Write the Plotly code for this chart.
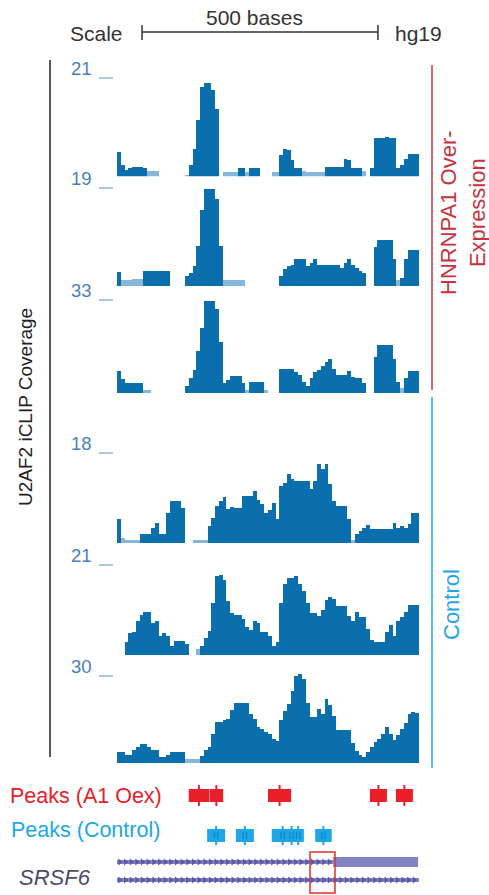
import plotly.graph_objects as go
import numpy as np

# ---------------- data ----------------
BIN = 8  # bases per coverage bin
N_BINS = 80
track_max = [21, 19, 33, 18, 21, 30]
track_group = ["oex", "oex", "oex", "ctl", "ctl", "ctl"]

cov_oex1 = [5.2, 2.5, 1.5, 1.8, 2.0, 2.0, 2.0, 1.8, 1.2, 1.2,
            1.2, 0, 0, 0, 0, 0, 0, 0, 0.4, 2.5,
            6, 12, 19, 20, 20, 18.5, 14.5, 0, 1.0, 1.0,
            1.0, 1.0, 1.8, 1.8, 1.0, 1.8, 1.8, 1.8, 0, 0,
            0, 1.0, 1.0, 4.6, 6.0, 5.8, 3.5, 1.8, 1.8, 1.2,
            1.0, 1.0, 1.0, 1.0, 1.0, 2.0, 2.0, 2.1, 2.1, 2.1,
            3.7, 3.5, 1.8, 1.8, 1.8, 1.2, 0, 1.8, 8.3, 8.3,
            8.3, 8.5, 8.3, 8.3, 1.8, 2.5, 3.7, 4.8, 4.8, 4.8]
cov_oex2 = [2.6, 1.2, 1.2, 1.2, 1.3, 1.3, 1.3, 2.8, 2.8, 2.8,
            2.8, 2.8, 2.8, 2.9, 0, 0, 0, 0, 1.8, 2.5,
            3.8, 7.7, 14.6, 18.8, 18.8, 18.8, 16.8, 7.7, 1.2, 1.2,
            1.2, 1.2, 1.2, 1.2, 0, 0, 0, 0, 0, 0,
            0, 0, 0, 1.8, 3.3, 3.8, 4.1, 5.1, 5.1, 5.1,
            3.8, 4.5, 5.1, 4.1, 4.1, 4.1, 4.1, 4.1, 4.1, 3.5,
            4.5, 5.1, 4.1, 3.5, 2.8, 2.5, 0, 0, 7.5, 8.8,
            8.8, 8.8, 8.8, 5.1, 1.2, 1.5, 5.1, 6.9, 6.9, 6.9]
cov_oex3 = [8.0, 5.0, 3.5, 3.5, 3.5, 3.5, 3.5, 1.2, 1.0, 0,
            0, 0, 0, 0, 0, 0, 0, 0, 2.5, 5.3,
            8.3, 14.8, 23, 32.7, 32.7, 32.7, 30, 18, 3.5, 4.5,
            6.1, 6.1, 6.1, 3.5, 1.2, 3.8, 3.8, 3.8, 3.8, 1.2,
            0, 0, 0, 8.6, 8.6, 8.6, 8.6, 7.5, 6.5, 4.0,
            2.4, 5.3, 7.5, 8.3, 9.5, 11.2, 12.2, 8.5, 6.5, 6.5,
            6.5, 8.0, 5.7, 5.3, 5.3, 3.5, 0, 0, 13, 17.1,
            17.1, 17.1, 17.1, 12, 4, 1.8, 5.3, 8.0, 8.0, 8.0]
cov_ctl1 = [4.7, 1.0, 0.5, 0.5, 0.5, 0.5, 1.7, 1.7, 1.7, 3.0,
            4.0, 1.7, 1.7, 6, 8.3, 8.3, 8.3, 7, 0, 0,
            0.5, 0.5, 0.5, 0.5, 3.3, 5, 7.3, 8.3, 9.2, 6.7,
            7.2, 7, 7, 9.3, 9.3, 9.3, 10.3, 8.5, 7.7, 6,
            6.5, 8, 4.7, 11.3, 12, 13.7, 12.8, 12.3, 12.3, 12.3,
            12.3, 10.7, 12.3, 15.7, 14.7, 15.7, 11.8, 8.3, 7.3, 7.3,
            7.3, 4.7, 0.5, 1.7, 2.3, 3.0, 3.5, 2.7, 2.7, 2.7,
            2.7, 2.7, 2.7, 3.9, 2.9, 3.3, 3.0, 3.7, 5.9, 5.9]
cov_ctl2 = [0, 0, 3.0, 5.2, 5.4, 7.8, 9.3, 9.9, 9.9, 7.4,
            7.8, 4.3, 5.2, 4.5, 2.1, 3.3, 3.3, 3.3, 2.5, 0,
            0, 1.3, 2.0, 4.0, 5.5, 12, 18.3, 18.7, 17.5, 12.5,
            9.8, 9.3, 9.3, 8.3, 6.5, 5.8, 7.8, 7.5, 5.4, 5.4,
            4.5, 2.1, 3.1, 12, 16.5, 17.9, 17.9, 18.3, 16.5, 15,
            12, 9.7, 9.7, 9.0, 10.5, 12.8, 13.5, 13, 11.3, 11.3,
            11.3, 9, 7.8, 10, 8.8, 8.8, 6, 3.5, 3.1, 3.1,
            3.1, 5.4, 7, 4.5, 7.8, 8.8, 10, 11.7, 11.7, 11.7]
cov_ctl3 = [4.0, 4.0, 3.0, 2.8, 4.6, 5.7, 6.8, 6.8, 5.5, 4.6,
            4.6, 2.3, 2.3, 2.9, 3.8, 3.8, 3.8, 3.8, 1.7, 1.7,
            1.7, 1.7, 2.5, 4.8, 5.7, 10, 14.3, 14.3, 15, 15.4,
            18.5, 21, 21, 21, 21, 17.1, 15.4, 12.5, 12, 10.8,
            10, 8.5, 7.8, 15, 18, 20.5, 25, 30.2, 31, 29,
            21, 16, 16, 18.8, 17.1, 22.2, 20, 16.5, 11.4, 11.4,
            11.4, 11.4, 7.0, 4.3, 3.0, 2.3, 4.0, 5.7, 7.4, 8.5,
            10, 12.5, 10.3, 8.2, 9.7, 12, 14, 17.1, 17.7, 17.5]
coverage = [cov_oex1, cov_oex2, cov_oex3, cov_ctl1, cov_ctl2, cov_ctl3]

peaks_oex_start = [152, 196, 320, 536, 591]
peaks_oex_end = [195, 225, 369, 572, 627]
peaks_ctl_start = [191, 252, 328, 350, 372, 420]
peaks_ctl_end = [229, 290, 374, 390, 396, 455]

scale_start, scale_end = 53, 553
tx1_thin = (0, 458)
tx1_thick = (458, 638)
tx2_span = (0, 642)
box_span = (409, 462)

# ---------------- layout helpers ----------------
W, H = 489, 895
DARK = "#0b6fae"
LIGHT = "#86b6db"
RED = "#e8202a"
RED_LINE = "#c8323c"
CYAN = "#1ea6e6"
GENE = "#8383c2"
GENE_DARK = "#5a5aa6"
TICKBLUE = "#4a7fbe"
FONT = "Liberation Sans, Arial, sans-serif"

def fy(py):
    return 1 - py / H

def fx(px):
    return px / W

baselines = [177, 286, 393, 543, 655, 763]
tickpix = [78, 188, 300, 453, 565, 676]
HEAD = 1.12

fig = go.Figure()
x_centers = np.arange(N_BINS) * BIN + BIN / 2

layout_axes = {}
shapes = []
annotations = []

def note(text, x, y, size, color, xanchor="center", yanchor="middle", **kw):
    d = dict(text=text, xref="paper", yref="paper", x=x, y=y, showarrow=False,
             xanchor=xanchor, yanchor=yanchor,
             font=dict(family=FONT, size=size, color=color))
    d.update(kw)
    annotations.append(d)

for k in range(6):
    ya = "y" if k == 0 else f"y{k+1}"
    yname = "yaxis" if k == 0 else f"yaxis{k+1}"
    vals = coverage[k]
    mx = track_max[k]
    colors = [LIGHT if v / mx <= 0.07 else DARK for v in vals]
    fig.add_trace(go.Bar(x=x_centers, y=vals, width=BIN, marker_color=colors,
                         marker_line_width=0, xaxis="x", yaxis=ya,
                         hoverinfo="skip"))
    b = baselines[k]
    top = b - (b - tickpix[k]) * HEAD
    layout_axes[yname] = dict(domain=[fy(b), fy(top)], range=[0, mx * HEAD],
                              visible=False, anchor="x", fixedrange=True)
    # tick mark and label
    shapes.append(dict(type="line", xref="paper", yref=ya, x0=fx(99), x1=fx(113),
                       y0=mx, y1=mx, line=dict(color="#8fb4da", width=1.5)))
    note(str(mx), fx(81), mx, 18.5, TICKBLUE, yref=ya, yshift=10)

# bottom area axis in pixel units
layout_axes["yaxis7"] = dict(domain=[0, fy(770)], range=[H, 770], visible=False,
                             anchor="x", fixedrange=True)

# peaks
for s, e in zip(peaks_oex_start, peaks_oex_end):
    shapes.append(dict(type="rect", xref="x", yref="y7", x0=s, x1=e, y0=789, y1=802,
                       fillcolor=RED, line=dict(width=0)))
    m = (s + e) / 2
    shapes.append(dict(type="line", xref="x", yref="y7", x0=m, x1=m, y0=785, y1=806,
                       line=dict(color=RED, width=2)))
for s, e in zip(peaks_ctl_start, peaks_ctl_end):
    shapes.append(dict(type="rect", xref="x", yref="y7", x0=s, x1=e, y0=829, y1=842,
                       fillcolor=CYAN, line=dict(width=0)))
for s, e in zip(peaks_ctl_start, peaks_ctl_end):
    m = (s + e) / 2
    shapes.append(dict(type="rect", xref="x", yref="y7", x0=m - 5, x1=m + 5, y0=832, y1=839,
                       fillcolor="#0f86cc", line=dict(width=0)))
    shapes.append(dict(type="line", xref="x", yref="y7", x0=m, x1=m, y0=826, y1=845,
                       line=dict(color=CYAN, width=2)))

# gene model
fig.add_trace(go.Scatter(x=list(tx1_thin), y=[862, 862], mode="lines", xaxis="x", yaxis="y7",
                         line=dict(color=GENE, width=4), hoverinfo="skip"))
fig.add_trace(go.Scatter(x=list(tx2_span), y=[880, 880], mode="lines", xaxis="x", yaxis="y7",
                         line=dict(color=GENE, width=4), hoverinfo="skip"))
ch1 = np.arange(tx1_thin[0] + 6, tx1_thin[1], 12)
ch2 = np.arange(tx2_span[0] + 6, tx2_span[1] - 2, 12)
fig.add_trace(go.Scatter(x=ch1, y=[862] * len(ch1), mode="markers", xaxis="x", yaxis="y7",
                         marker=dict(symbol="triangle-right", size=6, color=GENE_DARK),
                         hoverinfo="skip"))
fig.add_trace(go.Scatter(x=ch2, y=[880] * len(ch2), mode="markers", xaxis="x", yaxis="y7",
                         marker=dict(symbol="triangle-right", size=6, color=GENE_DARK),
                         hoverinfo="skip"))
shapes.append(dict(type="rect", xref="x", yref="y7", x0=tx1_thick[0], x1=tx1_thick[1],
                   y0=857, y1=867, fillcolor=GENE, line=dict(width=0)))
shapes.append(dict(type="rect", xref="x", yref="y7", x0=box_span[0], x1=box_span[1],
                   y0=852, y1=893, fillcolor="rgba(0,0,0,0)",
                   line=dict(color="#e03030", width=1.5)))

# scale bar
shapes.append(dict(type="line", xref="x", yref="paper", x0=scale_start, x1=scale_end,
                   y0=fy(32), y1=fy(32), line=dict(color="#333", width=1.5)))
for xv in (scale_start, scale_end):
    shapes.append(dict(type="line", xref="x", yref="paper", x0=xv, x1=xv,
                       y0=fy(25), y1=fy(40), line=dict(color="#333", width=1.5)))
note(f"{scale_end - scale_start} bases", (scale_start + scale_end) / 2, fy(17), 21, "#333",
     xref="x", xshift=-5)
note("Scale", fx(125), fy(33), 21, "#333", xanchor="right")
note("hg19", fx(393), fy(34), 21, "#333", xanchor="left")

# side lines and labels
shapes.append(dict(type="line", xref="paper", yref="paper", x0=fx(50), x1=fx(50),
                   y0=fy(60), y1=fy(757), line=dict(color="#222", width=1.5)))
shapes.append(dict(type="line", xref="paper", yref="paper", x0=fx(432), x1=fx(432),
                   y0=fy(65), y1=fy(390), line=dict(color=RED_LINE, width=1.5)))
shapes.append(dict(type="line", xref="paper", yref="paper", x0=fx(432), x1=fx(432),
                   y0=fy(397), y1=fy(768), line=dict(color=CYAN, width=1.5)))

note("U2AF2 iCLIP Coverage", fx(25), fy(407), 19, "#222", textangle=-90)
note("HNRNPA1 Over-<br>Expression", fx(463), fy(213), 22, RED_LINE, textangle=-90)
note("Control", fx(451), fy(605), 22, CYAN, textangle=-90)
note("Peaks (A1 Oex)", fx(8), fy(796), 21.5, RED, xanchor="left")
note("Peaks (Control)", fx(9), fy(830), 21.5, CYAN, xanchor="left")
note("<i>SRSF6</i>", fx(55), fy(877), 22, "#4a4a6a")

fig.update_layout(
    width=W, height=H, margin=dict(l=0, r=0, t=0, b=0),
    paper_bgcolor="white", plot_bgcolor="white", showlegend=False,
    barmode="overlay", bargap=0,
    xaxis=dict(domain=[fx(117), fx(419)], range=[0, N_BINS * BIN], visible=False,
               fixedrange=True),
    shapes=shapes, annotations=annotations,
    **layout_axes,
)

fig.write_html("out.html", config={"displayModeBar": False},
               post_script="document.body.style.margin='0';")
